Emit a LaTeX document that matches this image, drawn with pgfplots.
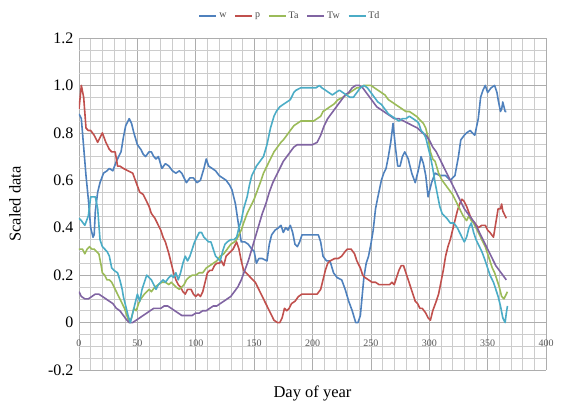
\documentclass[border=0pt]{standalone}
\usepackage{pgfplots}
\pgfplotsset{compat=1.18}
\usepackage{fontspec}
\setmainfont{Liberation Serif}
\definecolor{cw}{HTML}{4F81BD}
\definecolor{cp}{HTML}{C0504D}
\definecolor{cta}{HTML}{9BBB59}
\definecolor{ctw}{HTML}{8064A2}
\definecolor{ctd}{HTML}{4BACC6}
\begin{document}
\begin{tikzpicture}
\begin{axis}[
  scale only axis, width=467pt, height=332pt,
  xmin=0, xmax=400, ymin=-0.2, ymax=1.2,
  xtick={0,50,...,400},
  ytick={-0.2,0,0.2,0.4,0.6,0.8,1.0,1.2},
  yticklabels={-0.2,0,0.2,0.4,0.6,0.8,1.0,1.2},
  minor x tick num=4, minor y tick num=3,
  grid=both,
  major grid style={draw=black!32, line width=0.6pt},
  minor grid style={draw=black!20, line width=0.5pt},
  axis line style={draw=none},
  major tick length=0pt, minor tick length=0pt,
  /pgf/number format/assume math mode=true,
  x tick label style={font=\fontsize{10}{12}\selectfont, text=black!65, yshift=34pt},
  y tick label style={font=\fontsize{16}{18}\selectfont, xshift=-2pt},
  xlabel={Day of year}, ylabel={Scaled data},
  every axis x label/.style={at={(axis description cs:0.5,0)}, anchor=center, yshift=-23pt, font=\fontsize{16.5}{19}\selectfont},
  every axis y label/.style={at={(axis description cs:-0.137,0.5)}, rotate=90, anchor=center, font=\fontsize{16.5}{19}\selectfont},
  legend columns=5,
  legend style={draw=none, fill=none, at={(axis description cs:0.452,1.066)}, anchor=center, font=\fontsize{10}{11}\selectfont, text=black!70, /tikz/every even column/.append style={column sep=6pt}},
  legend image code/.code={\draw[#1] (0pt,0pt) -- (17pt,0pt);},
  every axis plot/.append style={line width=1.6pt, line join=round},
]
\addplot[cw] table {
0 0.88
2 0.86
4 0.74
6 0.62
8 0.52
10 0.40
12 0.36
13 0.37
14 0.47
16 0.55
18 0.59
21 0.63
24 0.64
26 0.65
29 0.64
32 0.68
34 0.70
36 0.72
38 0.78
40 0.83
43 0.86
45 0.84
47 0.80
50 0.75
53 0.73
55 0.71
57 0.70
60 0.72
62 0.72
64 0.70
66 0.69
68 0.70
71 0.65
74 0.67
77 0.66
80 0.64
83 0.63
86 0.64
88 0.63
90 0.61
92 0.59
95 0.61
98 0.61
101 0.59
104 0.60
107 0.65
109 0.69
111 0.66
114 0.65
117 0.64
120 0.62
123 0.61
126 0.60
129 0.58
131 0.56
134 0.50
137 0.40
139 0.34
142 0.34
145 0.33
148 0.31
150 0.30
152 0.25
154 0.27
157 0.27
161 0.26
163 0.33
165 0.37
168 0.39
171 0.40
173 0.41
175 0.38
177 0.40
179 0.39
181 0.41
183 0.38
185 0.33
187 0.32
189 0.34
191 0.37
195 0.37
200 0.37
205 0.37
207 0.34
209 0.28
212 0.26
215 0.26
218 0.21
221 0.19
225 0.18
228 0.14
231 0.09
234 0.05
237 0.0
239 0.0
241 0.03
244 0.19
246 0.25
248 0.28
250 0.33
252 0.39
254 0.48
256 0.53
259 0.60
261 0.63
263 0.65
265 0.70
267 0.76
269 0.84
271 0.74
273 0.66
275 0.66
277 0.70
279 0.72
282 0.69
285 0.63
288 0.59
291 0.65
293 0.70
295 0.67
297 0.62
299 0.53
302 0.59
305 0.63
309 0.62
314 0.62
318 0.60
322 0.62
325 0.70
327 0.77
330 0.79
332 0.80
335 0.81
337 0.80
339 0.79
342 0.86
344 0.95
346 0.98
348 1.0
350 0.97
353 0.99
356 1.0
358 0.97
359 0.94
361 0.89
362 0.90
363 0.93
365 0.89
366 0.89
};
\addlegendentry{w}
\addplot[cp] table {
0 0.90
2 1.00
4 0.95
6 0.82
8 0.81
10 0.81
13 0.79
16 0.76
18 0.78
20 0.80
23 0.76
26 0.73
28 0.72
31 0.72
33 0.66
35 0.66
38 0.65
42 0.64
46 0.63
49 0.59
52 0.55
55 0.54
57 0.52
60 0.49
62 0.46
65 0.44
68 0.41
70 0.39
72 0.36
74 0.34
77 0.29
79 0.25
81 0.21
83 0.18
85 0.16
87 0.15
89 0.13
91 0.12
93 0.14
96 0.14
98 0.12
100 0.11
102 0.12
104 0.11
106 0.13
108 0.17
110 0.21
112 0.22
114 0.22
116 0.24
118 0.25
120 0.25
122 0.26
124 0.24
126 0.28
128 0.29
130 0.30
132 0.31
134 0.33
135 0.34
137 0.31
139 0.26
141 0.22
143 0.21
147 0.19
151 0.17
154 0.14
156 0.12
159 0.09
162 0.06
165 0.03
167 0.01
170 0.0
172 0.0
174 0.02
176 0.06
178 0.05
180 0.06
182 0.08
185 0.09
188 0.11
191 0.12
194 0.12
198 0.12
201 0.12
204 0.12
207 0.14
209 0.18
211 0.22
213 0.25
215 0.26
219 0.27
222 0.27
225 0.28
228 0.30
230 0.31
233 0.31
236 0.29
238 0.26
241 0.23
243 0.20
245 0.19
248 0.18
251 0.17
254 0.17
257 0.16
260 0.16
263 0.16
266 0.16
268 0.17
270 0.16
272 0.19
274 0.22
276 0.24
278 0.24
280 0.21
282 0.18
284 0.15
286 0.12
288 0.09
290 0.08
292 0.06
294 0.06
297 0.04
299 0.02
301 0.01
303 0.05
306 0.09
308 0.12
310 0.17
312 0.22
314 0.28
316 0.32
318 0.35
320 0.39
322 0.43
324 0.47
326 0.50
328 0.52
330 0.51
332 0.49
335 0.45
337 0.43
339 0.42
342 0.40
345 0.41
348 0.41
350 0.39
352 0.38
355 0.36
357 0.42
359 0.48
361 0.48
362 0.50
363 0.47
365 0.45
366 0.44
};
\addlegendentry{p}
\addplot[cta] table {
0 0.31
3 0.31
5 0.29
7 0.31
9 0.32
11 0.31
13 0.31
15 0.30
17 0.29
19 0.24
20 0.21
22 0.20
24 0.18
26 0.18
28 0.17
30 0.15
33 0.12
35 0.10
37 0.08
39 0.06
41 0.03
43 0.0
45 0.02
47 0.06
49 0.05
51 0.08
53 0.10
56 0.12
58 0.13
60 0.14
62 0.13
65 0.15
68 0.16
71 0.17
74 0.17
77 0.16
79 0.17
81 0.16
83 0.15
86 0.14
88 0.15
90 0.16
92 0.18
94 0.19
97 0.20
100 0.20
103 0.21
106 0.21
109 0.23
112 0.24
115 0.25
118 0.26
121 0.28
124 0.29
127 0.31
130 0.33
133 0.34
135 0.35
137 0.37
139 0.39
141 0.42
144 0.46
147 0.49
150 0.52
153 0.56
156 0.60
158 0.63
161 0.66
164 0.69
167 0.72
170 0.74
173 0.76
175 0.77
178 0.79
181 0.81
184 0.83
187 0.84
190 0.85
194 0.85
198 0.85
201 0.85
204 0.86
207 0.87
209 0.89
212 0.90
215 0.91
218 0.92
222 0.94
226 0.95
229 0.96
232 0.97
235 0.98
238 0.99
241 0.99
244 1.00
247 1.00
250 1.00
253 0.99
256 0.98
259 0.97
262 0.96
265 0.94
268 0.93
271 0.92
274 0.91
277 0.90
280 0.89
283 0.89
286 0.88
289 0.87
291 0.86
293 0.85
295 0.84
297 0.82
299 0.78
301 0.72
303 0.69
305 0.68
308 0.63
311 0.60
314 0.58
317 0.56
320 0.54
323 0.51
326 0.48
329 0.45
332 0.43
334 0.45
336 0.43
338 0.42
340 0.40
342 0.38
345 0.35
348 0.32
350 0.29
352 0.26
354 0.23
356 0.21
358 0.18
360 0.15
362 0.11
364 0.10
366 0.12
367 0.13
};
\addlegendentry{Ta}
\addplot[ctw] table {
0 0.13
2 0.11
5 0.10
8 0.10
11 0.11
14 0.12
17 0.12
20 0.11
23 0.10
26 0.09
29 0.08
32 0.06
35 0.05
38 0.03
41 0.01
43 0.0
46 0.0
49 0.01
52 0.02
55 0.03
58 0.04
61 0.05
64 0.06
67 0.06
70 0.06
73 0.07
76 0.07
79 0.06
82 0.05
85 0.04
88 0.03
91 0.03
94 0.03
97 0.03
100 0.04
103 0.04
106 0.05
109 0.05
112 0.06
115 0.07
118 0.07
121 0.08
124 0.09
127 0.10
130 0.11
133 0.13
136 0.15
139 0.18
142 0.22
145 0.26
148 0.31
151 0.36
154 0.41
157 0.46
160 0.50
163 0.55
166 0.59
169 0.62
172 0.65
175 0.68
178 0.70
181 0.72
184 0.74
187 0.75
190 0.75
195 0.75
200 0.75
204 0.76
207 0.79
210 0.83
213 0.86
216 0.88
219 0.90
222 0.92
225 0.94
228 0.96
231 0.97
234 0.99
237 1.00
240 1.00
243 0.99
246 0.97
249 0.95
252 0.93
255 0.91
258 0.90
261 0.89
264 0.88
267 0.87
270 0.86
274 0.86
278 0.85
282 0.84
286 0.83
290 0.82
294 0.80
297 0.79
300 0.77
303 0.74
306 0.72
309 0.69
312 0.66
315 0.63
318 0.60
321 0.57
324 0.54
327 0.51
330 0.48
333 0.46
336 0.44
339 0.42
342 0.39
345 0.36
348 0.33
351 0.30
354 0.27
357 0.24
360 0.22
363 0.20
366 0.18
};
\addlegendentry{Tw}
\addplot[ctd] table {
0 0.44
2 0.43
5 0.41
8 0.45
10 0.53
12 0.53
14 0.53
16 0.48
18 0.35
20 0.32
22 0.31
24 0.30
26 0.28
28 0.23
30 0.22
33 0.21
35 0.18
37 0.14
38 0.11
40 0.07
42 0.03
44 0.0
46 0.04
48 0.08
50 0.12
52 0.09
54 0.14
56 0.17
58 0.20
60 0.19
62 0.18
64 0.16
66 0.14
68 0.16
70 0.17
72 0.18
74 0.17
77 0.19
79 0.20
81 0.19
83 0.21
85 0.18
87 0.21
89 0.25
91 0.28
93 0.26
95 0.28
97 0.31
99 0.34
101 0.36
103 0.38
105 0.38
107 0.36
109 0.35
111 0.34
113 0.34
115 0.31
117 0.28
119 0.27
121 0.26
123 0.30
125 0.33
127 0.34
130 0.35
133 0.35
135 0.36
137 0.40
139 0.43
141 0.48
144 0.53
146 0.58
148 0.62
150 0.64
152 0.66
155 0.68
158 0.70
161 0.75
164 0.82
167 0.87
169 0.89
172 0.91
175 0.92
178 0.93
181 0.94
184 0.97
186 0.98
190 0.99
195 0.99
200 0.99
203 0.99
206 1.00
208 0.99
211 0.98
214 0.97
217 0.96
220 0.97
223 0.98
226 0.97
229 0.96
232 0.95
235 0.95
238 0.97
241 0.99
244 1.00
247 0.99
250 0.97
253 0.95
256 0.93
259 0.92
262 0.90
265 0.88
268 0.87
271 0.86
274 0.85
277 0.86
280 0.86
283 0.87
286 0.86
289 0.85
291 0.84
293 0.81
295 0.80
297 0.78
299 0.74
301 0.70
303 0.65
305 0.59
307 0.54
309 0.49
311 0.46
313 0.45
315 0.44
318 0.42
321 0.42
324 0.40
327 0.37
330 0.34
332 0.36
334 0.40
336 0.42
338 0.38
340 0.35
342 0.33
345 0.30
348 0.26
350 0.23
352 0.20
355 0.17
357 0.14
359 0.11
361 0.07
363 0.02
365 0.0
366 0.04
367 0.07
};
\addlegendentry{Td}
\end{axis}
\path (current axis.south west) ++(-79pt,-34pt) rectangle ++(562pt,404pt);
\end{tikzpicture}
\end{document}
